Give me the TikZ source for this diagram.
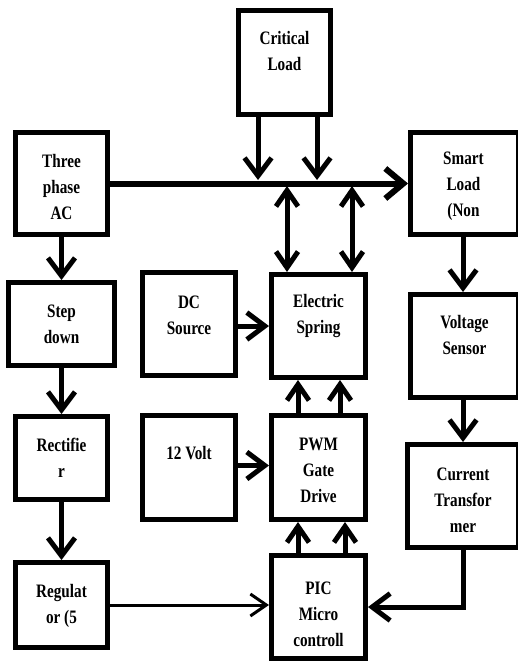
\documentclass[tikz,border=0pt]{standalone}
\usepackage{fontspec}
\setmainfont{Liberation Serif}[FakeStretch=0.8]
\usetikzlibrary{arrows.meta}
\begin{document}
\begin{tikzpicture}[x=1pt,y=-1pt,
  box/.style={draw, line width=5pt, rectangle, inner sep=0pt},
  txt/.style={font=\fontsize{19}{26}\selectfont\bfseries, align=center, inner sep=0pt},
  arr/.style={line width=5pt, -{Straight Barb[length=18pt,width=27pt]}},
  sarr/.style={line width=5pt, -{Straight Barb[length=16pt,width=22pt]}},
  darr/.style={line width=5pt, {Straight Barb[length=16pt,width=22pt]}-{Straight Barb[length=16pt,width=22pt]}},
  thinarr/.style={line width=3pt, -{Straight Barb[length=16pt,width=22pt]}},
  busline/.style={line width=6pt, -{Straight Barb[length=18pt,width=30pt]}}
]
\useasboundingbox (0,0) rectangle (518,661);
\clip (0,0) rectangle (518,661);
% boxes
\node[box, minimum width=92pt, minimum height=104pt] (crit) at (284.5,62.5) {};
\node[box, minimum width=92pt, minimum height=102pt] (three) at (61.5,183.5) {};
\node[box, minimum width=108pt, minimum height=102pt] (smart) at (464.5,183.5) {};
\node[box, minimum width=106pt, minimum height=83pt] (step) at (61.5,324) {};
\node[box, minimum width=92pt, minimum height=83pt] (rect) at (61.5,458) {};
\node[box, minimum width=92pt, minimum height=85pt] (reg) at (61.5,605) {};
\node[box, minimum width=93pt, minimum height=103pt] (dc) at (189,324) {};
\node[box, minimum width=94pt, minimum height=103pt] (es) at (318.5,326) {};
\node[box, minimum width=93pt, minimum height=104pt] (volt) at (189,467.5) {};
\node[box, minimum width=94pt, minimum height=104pt] (pwm) at (318.5,467.5) {};
\node[box, minimum width=94pt, minimum height=103pt] (pic) at (318.5,607) {};
\node[box, minimum width=108pt, minimum height=103pt] (vs) at (464.5,346) {};
\node[box, minimum width=111pt, minimum height=103pt] (ct) at (463,496) {};
% texts
\node[txt] (critT) at ([yshift=11.5pt]crit.center) {Critical\\Load};
\node[txt] (threeT) at ([yshift=-3.5pt]three.center) {Three\\phase\\AC};
\node[txt] (smartT) at ([yshift=-2.5pt,xshift=-1pt]smart.center) {Smart\\Load\\(Non};
\node[txt] (stepT) at (step.center) {Step\\down};
\node[txt] (rectT) at (rect.center) {Rectifie\\r};
\node[txt] (regT) at ([yshift=-1pt]reg.center) {Regulat\\or (5};
\node[txt] (dcT) at ([yshift=9pt]dc.center) {DC\\Source};
\node[txt] (esT) at ([yshift=10pt]es.center) {Electric\\Spring};
\node[txt] (voltT) at ([yshift=14.5pt]volt.center) {12 Volt};
\node[txt] (pwmT) at ([yshift=-2.5pt]pwm.center) {PWM\\Gate\\Drive};
\node[txt] (picT) at ([yshift=-7pt]pic.center) {PIC\\Micro\\controll};
\node[txt] (vsT) at ([yshift=11pt]vs.center) {Voltage\\Sensor};
\node[txt] (ctT) at ([yshift=-4pt]ct.center) {Current\\Transfor\\mer};
% coordinates
\coordinate (b1) at (258,180);
\coordinate (b2) at (317,180);
\coordinate (b3) at (287,186);
\coordinate (b4) at (352,186);
\coordinate (p1) at (298,0);
\coordinate (p2) at (340,0);
\coordinate (q2) at (345,0);
\coordinate (c) at (463,0);
% connectors
\draw[busline] (three.east) -- (smart.west);
\draw[arr] (crit.south -| b1) -- (b1);
\draw[arr] (crit.south -| b2) -- (b2);
\draw[darr] (es.north -| b3) -- (b3);
\draw[darr] (es.north -| b4) -- (b4);
\draw[arr] (three.south) -- (step.north);
\draw[arr] (step.south) -- (rect.north);
\draw[arr] (rect.south) -- (reg.north);
\draw[arr] (es.west -| dc.east) -- (es.west);
\draw[arr] ([yshift=2pt]volt.east) -- ([yshift=2pt]volt.east -| pwm.west);
\draw[sarr] (pwm.north -| p1) -- (es.south -| p1);
\draw[sarr] (pwm.north -| p2) -- (es.south -| p2);
\draw[sarr] (pic.north -| p1) -- (pwm.south -| p1);
\draw[sarr] (pic.north -| q2) -- (pwm.south -| q2);
\draw[thinarr] (reg.east) -- (reg.east -| pic.west);
\draw[arr] (smart.south -| c) -- (vs.north -| c);
\draw[arr] (vs.south -| c) -- (ct.north -| c);
\draw[arr] (ct.south -| c) |- (pic.east);
\end{tikzpicture}
\end{document}
